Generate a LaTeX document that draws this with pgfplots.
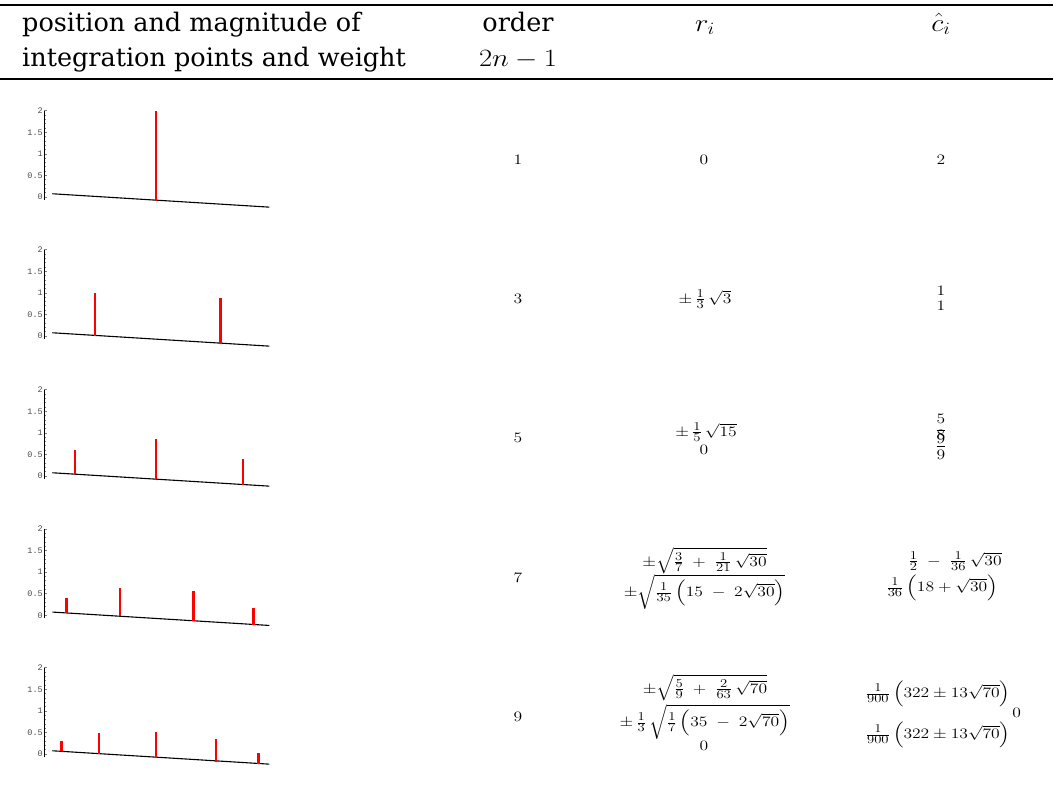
\documentclass[border=0pt]{standalone}
\usepackage{amsmath}
\usepackage{pgfplots}
\pgfplotsset{compat=1.18}
\usepackage{graphicx}
\usepackage[no-math]{fontspec}
\newfontfamily\hdr{DejaVu Serif}
\newfontfamily\tickfont{Liberation Mono}
\DeclareMathSizes{14}{14}{12}{9}

\pgfplotsset{
  quad/.style={
    x=1pt, y=43.15pt,
    xmin=0, xmax=228, ymin=-0.06, ymax=2,
    axis x line=none, axis y line=left,
    axis line style={-, line width=1pt},
    ytick={0,0.5,1,1.5,2},
    minor y tick num=4,
    tick align=inside,
    major tick length=3pt, minor tick length=1.5pt,
    tick style={line width=0.6pt},
    /pgf/number format/assume math mode=true,
    yticklabel style={font=\tickfont\fontsize{8.5}{9}\selectfont, text=black!70, inner xsep=1pt},
    clip=false,
    anchor=origin,
  },
  spike/.style={red, line width=2.8pt},
  base/.style={black, line width=1.1pt},
}

% body formulas: slightly wide, as in the reference
\newcommand{\m}[1]{\scalebox{1.22}[1]{$#1$}}
\newcommand{\hm}[1]{\scalebox{1.15}[1]{$#1$}}

\begin{document}
\begin{tikzpicture}[x=1pt, y=-1pt]
\path[use as bounding box] (0,0) rectangle (1053,787);

% rules
\draw[line width=2pt] (0,5) -- (1053,5);
\draw[line width=1.2pt] (0,79) -- (1053,79);

% header
\begin{scope}[every node/.style={inner sep=0pt, font=\hdr\fontsize{25.5}{30}\selectfont}]
\node[anchor=base west] at (22,31) {position and magnitude of};
\node[anchor=base west] at (22,66) {integration points and weight};
\node[anchor=base] at (518,31) {order};
\end{scope}
\begin{scope}[every node/.style={inner sep=0pt, font=\fontsize{24}{28}\selectfont}]
\node[anchor=base] at (518,66) {\hm{2n-1}};
\node[anchor=base] at (705,31) {\hm{r_i}};
\node[anchor=base] at (941,31) {\hm{\hat{c}_i}};
\end{scope}

% row 1
\begin{axis}[quad, at={(44pt,-197pt)}]
\addplot[base] coordinates {(8.3,0.075) (225.3,-0.235)};
\addplot[spike] coordinates {(112,-0.09) (112,2.0)};
\end{axis}

% row 2
\begin{axis}[quad, at={(44pt,-336pt)}]
\addplot[base] coordinates {(8.3,0.075) (225.3,-0.235)};
\addplot[spike] coordinates {(51,0.0) (51,1.0)};
\addplot[spike] coordinates {(176.3,-0.18) (176.3,0.87)};
\end{axis}

% row 3
\begin{axis}[quad, at={(44pt,-476pt)}]
\addplot[base] coordinates {(8.3,0.075) (225.3,-0.235)};
\addplot[spike] coordinates {(31,0.04) (31,0.60)};
\addplot[spike] coordinates {(112,-0.08) (112,0.85)};
\addplot[spike] coordinates {(199,-0.21) (199,0.40)};
\end{axis}

% row 4
\begin{axis}[quad, at={(44pt,-615.3pt)}]
\addplot[base] coordinates {(8.3,0.075) (225.3,-0.235)};
\addplot[spike] coordinates {(22.3,0.05) (22.3,0.41)};
\addplot[spike] coordinates {(76,-0.02) (76,0.64)};
\addplot[spike] coordinates {(149.3,-0.13) (149.3,0.56)};
\addplot[spike] coordinates {(209.3,-0.22) (209.3,0.16)};
\end{axis}

% row 5
\begin{axis}[quad, at={(44pt,-754pt)}]
\addplot[base] coordinates {(8.3,0.075) (225.3,-0.235)};
\addplot[spike] coordinates {(17.7,0.06) (17.7,0.30)};
\addplot[spike] coordinates {(55,0.0) (55,0.48)};
\addplot[spike] coordinates {(112,-0.09) (112,0.50)};
\addplot[spike] coordinates {(172,-0.18) (172,0.34)};
\addplot[spike] coordinates {(214.3,-0.235) (214.3,0.03)};
\end{axis}

% table entries
\begin{scope}[every node/.style={inner sep=0pt, font=\fontsize{14}{16}\selectfont}]
% row 1
\node at (518,160) {\m{1}};
\node at (704,160) {\m{0}};
\node at (941,160) {\m{2}};
% row 2
\node at (518,299) {\m{3}};
\node at (705,299) {\m{\pm\,\frac{1}{3}\,\sqrt{3}}};
\node at (941,291) {\m{1}};
\node at (941,306) {\m{1}};
% row 3
\node at (518,438) {\m{5}};
\node at (706,432) {\m{\pm\,\frac{1}{5}\,\sqrt{15}}};
\node at (704,450) {\m{0}};
\node at (941,429) {\m{\dfrac{5}{9}}};
\node at (941,445) {\m{\dfrac{8}{9}}};
% row 4
\node at (518,578) {\m{7}};
\node at (704.5,561) {\m{\pm\sqrt{\frac{3}{7}\;+\;\frac{1}{21}\,\sqrt{30}}}};
\node at (704.5,592) {\m{\pm\sqrt{\frac{1}{35}\,\Bigl(15\;-\;2\sqrt{30}\Bigr)}}};
\node at (955,561) {\m{\frac{1}{2}\;-\;\frac{1}{36}\,\sqrt{30}}};
\node at (942,588) {\m{\frac{1}{36}\,\Bigl(18+\sqrt{30}\Bigr)}};
% row 5
\node at (518,717) {\m{9}};
\node at (705,688) {\m{\pm\sqrt{\frac{5}{9}\;+\;\frac{2}{63}\,\sqrt{70}}}};
\node at (704.7,722) {\m{\pm\,\frac{1}{3}\,\sqrt{\frac{1}{7}\,\Bigl(35\;-\;2\sqrt{70}\Bigr)}}};
\node at (704,746) {\m{0}};
\node at (938,694) {\m{\frac{1}{900}\,\Bigl(322\pm13\sqrt{70}\Bigr)}};
\node at (1016.7,713) {\m{0}};
\node at (938,735) {\m{\frac{1}{900}\,\Bigl(322\pm13\sqrt{70}\Bigr)}};
\end{scope}
\end{tikzpicture}
\end{document}
